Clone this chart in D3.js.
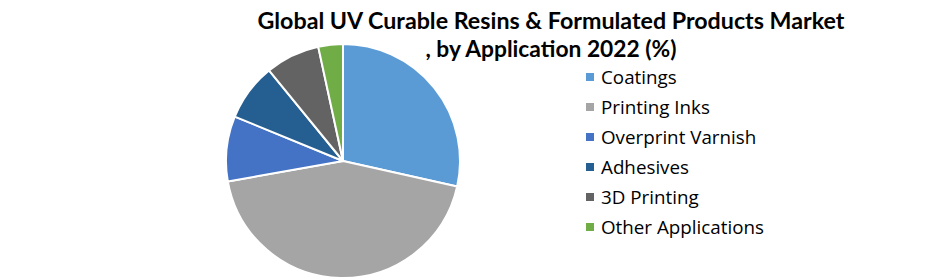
<!DOCTYPE html>
<html>
<head>
<meta charset="utf-8">
<script src="https://cdn.jsdelivr.net/npm/d3@7/dist/d3.min.js"></script>
<style>
  body { margin: 0; background: #fff; }
  svg { display: block; }
</style>
</head>
<body>
<svg id="chart" width="940" height="279"></svg>
<script>
const categories = ['Coatings', 'Printing Inks', 'Overprint Varnish', 'Adhesives', '3D Printing', 'Other Applications'];
const shares = [28.5, 43.7, 9.0, 7.9, 7.5, 3.4];
const colors = ['#5B9BD5', '#A5A5A5', '#4472C4', '#255E91', '#636363', '#70AD47'];
const titleLines = ['Global UV Curable Resins & Formulated Products Market', ', by Application 2022 (%)'];

const svg = d3.select('#chart');
const data = categories.map((c, i) => ({ name: c, value: shares[i] }));

const color = d3.scaleOrdinal().domain(categories).range(colors);

// pie
const pie = d3.pie().value(d => d.value).sort(null);
const arc = d3.arc().innerRadius(0).outerRadius(117);

svg.append('g')
  .attr('transform', 'translate(343,161)')
  .selectAll('path')
  .data(pie(data))
  .enter()
  .append('path')
  .attr('d', arc)
  .attr('fill', d => color(d.data.name))
  .attr('stroke', '#fff')
  .attr('stroke-width', 2)
  .attr('stroke-linejoin', 'round');

// title
svg.append('g')
  .selectAll('text')
  .data(titleLines)
  .enter()
  .append('text')
  .attr('x', 551)
  .attr('y', (d, i) => 29 + i * 28)
  .attr('text-anchor', 'middle')
  .attr('font-family', 'Lato, "Open Sans", sans-serif')
  .attr('font-weight', 'bold')
  .attr('font-size', 22)
  .attr('fill', '#000')
  .attr('textLength', (d, i) => i === 0 ? 587 : 251)
  .attr('lengthAdjust', 'spacingAndGlyphs')
  .text(d => d);

// legend
const rowY = d3.scalePoint().domain(categories).range([77, 227]);
const legend = svg.append('g')
  .selectAll('g')
  .data(categories)
  .enter()
  .append('g')
  .attr('transform', d => `translate(586,${rowY(d)})`);

legend.append('rect')
  .attr('x', 0)
  .attr('y', -4)
  .attr('width', 8)
  .attr('height', 8)
  .attr('fill', d => color(d));

legend.append('text')
  .attr('x', 15)
  .attr('y', 0)
  .attr('dy', '0.35em')
  .attr('font-family', '"Open Sans", Lato, sans-serif')
  .attr('font-size', 18.8)
  .attr('fill', '#000')
  .text(d => d);
</script>
</body>
</html>
